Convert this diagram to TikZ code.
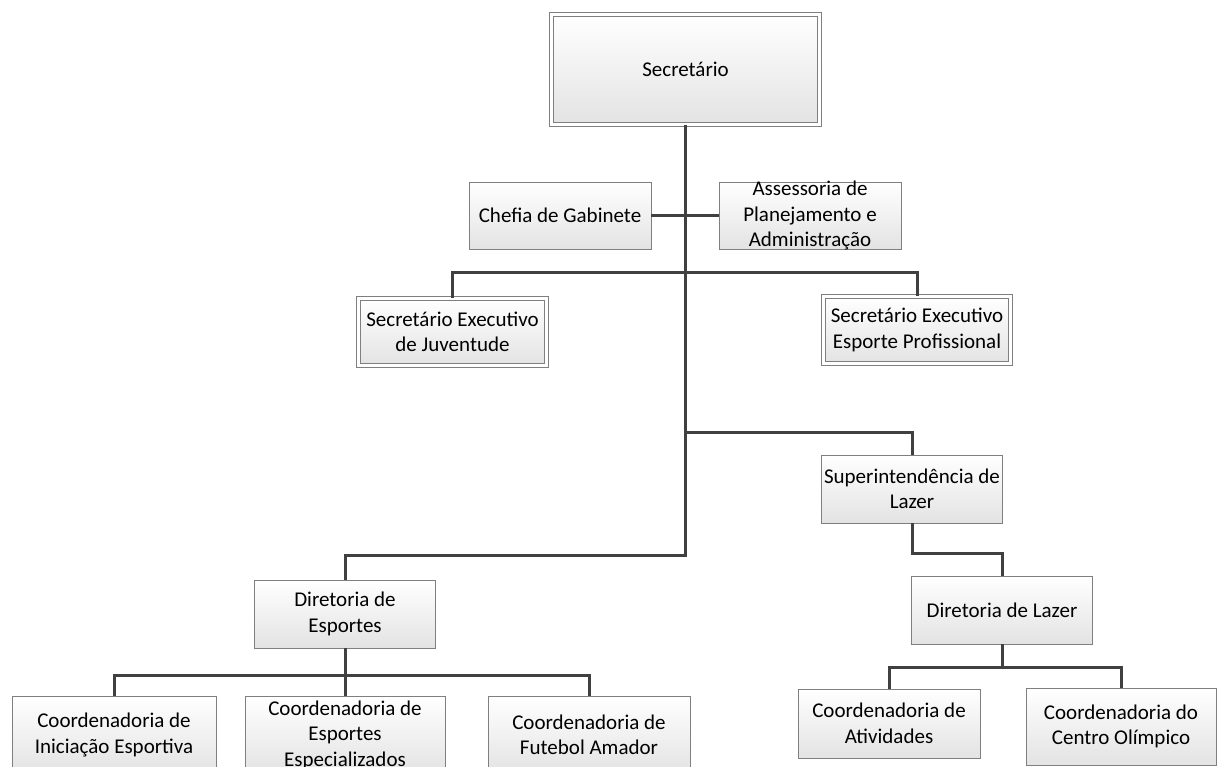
\documentclass[tikz,border=0pt]{standalone}
\usepackage{fontspec}
\setmainfont{Carlito}
\usepackage{tikz}
\usepackage{xcolor}
\usetikzlibrary{positioning}

\definecolor{boxgray}{HTML}{7F7F7F}
\definecolor{linegray}{HTML}{404040}

\begin{document}
\begin{tikzpicture}[x=1pt,y=-1pt,
  orgbox/.style={rectangle,draw=boxgray,line width=0.9pt,top color=white,bottom color=black!11,inner sep=0pt},
  dblbox/.style={orgbox,double=white,double distance=2.4pt},
  txt/.style={align=center,inner sep=0pt,font=\fontsize{21}{25.5}\selectfont},
  conn/.style={draw=linegray,line width=3pt,line join=miter}]
  \useasboundingbox (0,0) rectangle (1218,766);
  \clip (0,0) rectangle (1218,766);
  % top of the chart
  \node[dblbox,minimum width=268pt,minimum height=110pt,label={[txt]center:Secretário}] (sec) at (685.5,69.5) {};
  \node[orgbox,minimum width=182pt,minimum height=67pt,label={[txt]center:Chefia de Gabinete}] (chefia) at (560,215.5) {};
  \node[orgbox,minimum width=182pt,minimum height=67pt,label={[txt]center:Assessoria de\\Planejamento e\\Administração}] (assess) at (810,215.5) {};
  % secretarios executivos
  \node[dblbox,minimum width=188pt,minimum height=67pt,label={[txt]center:Secretário Executivo\\de Juventude}] (juv) at (452.5,332) {};
  \node[dblbox,minimum width=187pt,minimum height=67pt,label={[txt]center:Secretário Executivo\\Esporte Profissional}] (prof) at (917,330) {};
  % lazer
  \node[orgbox,minimum width=181pt,minimum height=68pt,label={[txt]center:Superintendência de\\Lazer}] (super) at (912,489) {};
  \node[orgbox,minimum width=181pt,minimum height=68pt,label={[txt]center:Diretoria de Lazer}] (dirlazer) at (1002,610) {};
  \node[orgbox,minimum width=182pt,minimum height=69pt,label={[txt]center:Coordenadoria de\\Atividades}] (ativ) at (889,723.5) {};
  \node[orgbox,minimum width=190pt,minimum height=77pt,label={[txt]center:Coordenadoria do\\Centro Olímpico}] (olimp) at (1121,726.5) {};
  % esportes
  \node[orgbox,minimum width=181pt,minimum height=68pt,label={[txt]center:Diretoria de\\Esportes}] (dirsport) at (345,614) {};
  \node[orgbox,minimum width=204pt,minimum height=78pt,label={[txt]center:Coordenadoria de\\Iniciação Esportiva}] (inic) at (114,735) {};
  \node[orgbox,minimum width=200pt,minimum height=78pt,label={[txt]center:Coordenadoria de\\Esportes\\Especializados}] (espec) at (345,735) {};
  \node[orgbox,minimum width=202pt,minimum height=78pt,label={[txt]center:Coordenadoria de\\Futebol Amador}] (fut) at (589,735) {};

  % junctions
  \coordinate (jexec) at (685,272);
  \coordinate (jsup) at (685,432);
  \coordinate (jbase) at (685,555);
  \coordinate (jlaz) at (957,553);
  \coordinate (jcl) at (1002,667);
  \coordinate (jce) at (345,675);

  % connectors
  \draw[conn] (sec.south) |- (jbase) -| (dirsport.north);
  \draw[conn] (chefia.east) -- (assess.west);
  \draw[conn] (juv.north) |- (jexec) -| (prof.north);
  \draw[conn] (jsup) -| (super.north);
  \draw[conn] (super.south) |- (jlaz) -| (dirlazer.north);
  \draw[conn] (dirlazer.south) -- (jcl);
  \draw[conn] (ativ.north) |- (jcl) -| (olimp.north);
  \draw[conn] (dirsport.south) -- (espec.north);
  \draw[conn] (inic.north) |- (jce) -| (fut.north);
\end{tikzpicture}
\end{document}
